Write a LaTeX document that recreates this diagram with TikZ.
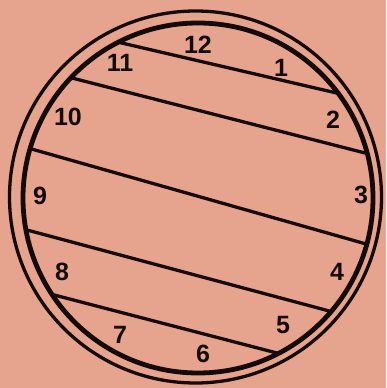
\documentclass[tikz,border=0pt]{standalone}
\usepackage{fontspec}
\setmainfont{Liberation Sans}
\definecolor{paper}{RGB}{230,164,142}
\definecolor{ink}{RGB}{20,10,8}
\begin{document}
\begin{tikzpicture}[x=1pt,y=1pt,
  chord/.style={draw=ink,line width=3.3pt,line cap=round},
  rim/.style={draw=ink,line width=3.3pt},
  rimin/.style={draw=ink,line width=4.8pt},
  num/.style={font=\fontsize{25}{25}\selectfont\bfseries,text=ink,inner sep=0pt}]
\fill[paper] (0,0) rectangle (386,388);
\useasboundingbox (0,0) rectangle (386,388);
\coordinate (co) at (195.5,191);
\coordinate (ci) at (198,190);
\draw[rim] (co) circle (186);
\draw[rimin] (ci) circle (175);
% chord end points on the inner circle
\coordinate (a1) at ([shift={(116.7:174)}]ci);
\coordinate (b1) at ([shift={(37.1:174)}]ci);
\coordinate (a2) at ([shift={(136.4:174)}]ci);
\coordinate (b2) at ([shift={(14.9:174)}]ci);
\coordinate (a3) at ([shift={(163.6:174)}]ci);
\coordinate (b3) at ([shift={(-15.3:174)}]ci);
\coordinate (a4) at ([shift={(190.6:174)}]ci);
\coordinate (b4) at ([shift={(-40.6:174)}]ci);
\coordinate (a5) at ([shift={(213.8:174)}]ci);
\coordinate (b5) at ([shift={(-63:174)}]ci);
\draw[chord] (a1) -- (b1);
\draw[chord] (a2) -- (b2);
\draw[chord] (a3) -- (b3);
\draw[chord] (a4) -- (b4);
\draw[chord] (a5) -- (b5);
% numbers
\node[num] (n12) at (198,343) {12};
\node[num] (n1) at (281,320) {1};
\node[num] (n2) at (333,268) {2};
\node[num] (n3) at (361,193) {3};
\node[num] (n4) at (337,116) {4};
\node[num] (n5) at (283,63) {5};
\node[num] (n6) at (203,34) {6};
\node[num] (n7) at (120,53) {7};
\node[num] (n8) at (62,116) {8};
\node[num] (n9) at (40,192) {9};
\node[num] (n10) at (68,271) {10};
\node[num] (n11) at (120,325) {11};
\end{tikzpicture}
\end{document}
